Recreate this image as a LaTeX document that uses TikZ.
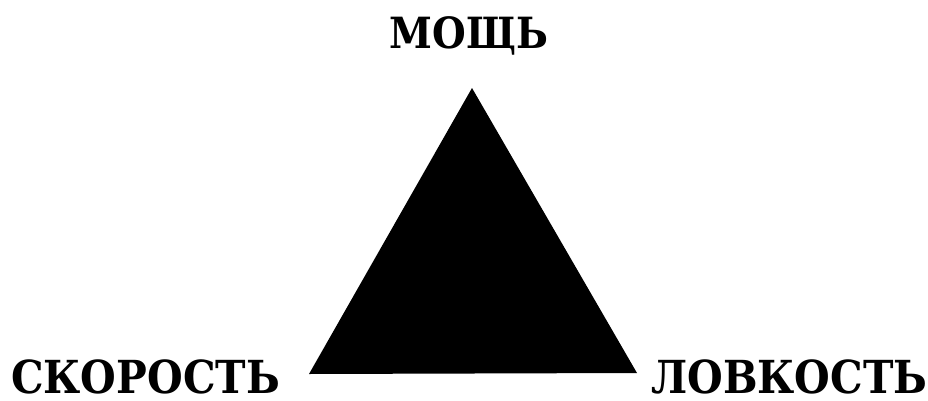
\documentclass[tikz,border=0pt]{standalone}
\usepackage{fontspec}
\setmainfont{DejaVu Serif Condensed}
\usetikzlibrary{positioning}
\tikzset{lbl/.style={font=\bfseries\fontsize{45.5}{48}\selectfont,inner sep=0pt,text depth=0pt},
 tri/.style={fill=black,draw=none}}

\begin{document}
\begin{tikzpicture}[x=1pt,y=1pt]
\useasboundingbox (0,0) rectangle (928,400);
\coordinate (apex) at (472,312);
\coordinate (left) at (309,26);
\coordinate (right) at (637,27);
\fill[tri] (apex) -- (left) -- (right) -- cycle;

\node[lbl,font=\bfseries\fontsize{43}{46}\selectfont,anchor=base] (power) at (469,352) {МОЩЬ};
\node[lbl,anchor=base west] (speed) at (11,7) {СКОРОСТЬ};
\node[lbl,anchor=base west] (agility) at (651,7) {ЛОВКОСТЬ};
\end{tikzpicture}
\end{document}
